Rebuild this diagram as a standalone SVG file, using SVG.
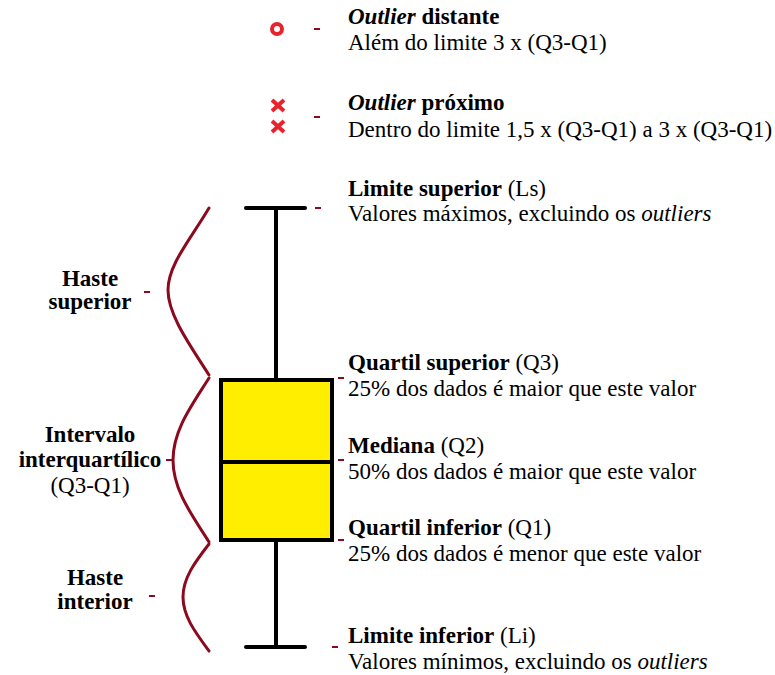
<svg xmlns="http://www.w3.org/2000/svg" width="775" height="675" viewBox="0 0 775 675">
<style>
text{font-family:"Liberation Serif","Times New Roman",serif;font-size:23px;fill:#000}
.b{font-weight:bold}
.c{text-anchor:middle}
.brace{fill:none;stroke:#8b0a1e;stroke-width:3;stroke-linecap:round}
.dash{stroke:#8b0a1e;stroke-width:2}
.blk{stroke:#000;stroke-width:4;stroke-linecap:round}
.out{stroke:#e8232b;stroke-width:4;fill:none}
</style>
<rect width="775" height="675" fill="#fff"/>
<g id="connectors">
<line class="dash" x1="314" y1="29" x2="320" y2="29"/>
<line class="dash" x1="314" y1="117" x2="320" y2="117"/>
<line class="dash" x1="315" y1="208" x2="321" y2="208"/>
<line class="dash" x1="338" y1="378" x2="344" y2="378"/>
<line class="dash" x1="338" y1="460" x2="344" y2="460"/>
<line class="dash" x1="338" y1="540" x2="344" y2="540"/>
<line class="dash" x1="332" y1="647" x2="338" y2="647"/>
<line class="dash" x1="144" y1="292" x2="150" y2="292"/>
<line class="dash" x1="166" y1="460" x2="172" y2="460"/>
<line class="dash" x1="149" y1="596" x2="155" y2="596"/>
</g>
<g id="outlier-distante">
<circle class="out" cx="277" cy="29" r="5"/>
<text x="348" y="24"><tspan class="b" font-style="italic">Outlier</tspan><tspan class="b"> distante</tspan></text>
<text x="348" y="50">Além do limite 3 x (Q3-Q1)</text>
</g>
<g id="outlier-proximo">
<path class="out" d="M272 100L284 111M284 100L272 111M272 121L284 132M284 121L272 132"/>
<text x="348" y="110"><tspan class="b" font-style="italic">Outlier</tspan><tspan class="b"> próximo</tspan></text>
<text x="348" y="137">Dentro do limite 1,5 x (Q3-Q1) a 3 x (Q3-Q1)</text>
</g>
<g id="boxplot">
<line class="blk" x1="276" y1="208" x2="276" y2="380"/>
<line class="blk" x1="276" y1="540" x2="276" y2="647"/>
<line class="blk" x1="246" y1="208" x2="305" y2="208"/>
<line class="blk" x1="246" y1="647" x2="305" y2="647"/>
<rect x="221" y="380" width="111" height="160" fill="#ffee00" stroke="#000" stroke-width="4"/>
<line x1="221" y1="462" x2="332" y2="462" stroke="#000" stroke-width="4"/>
</g>
<g id="limite-superior">
<text x="348" y="196"><tspan class="b">Limite superior</tspan> (Ls)</text>
<text x="348" y="221">Valores máximos, excluindo os <tspan font-style="italic">outliers</tspan></text>
</g>
<g id="quartil-superior">
<text x="348" y="370"><tspan class="b">Quartil superior</tspan> (Q3)</text>
<text x="348" y="396">25% dos dados é maior que este valor</text>
</g>
<g id="mediana">
<text x="348" y="453"><tspan class="b">Mediana</tspan> (Q2)</text>
<text x="348" y="479">50% dos dados é maior que este valor</text>
</g>
<g id="quartil-inferior">
<text x="348" y="535"><tspan class="b">Quartil inferior</tspan> (Q1)</text>
<text x="348" y="561">25% dos dados é menor que este valor</text>
</g>
<g id="limite-inferior">
<text x="348" y="643"><tspan class="b">Limite inferior</tspan> (Li)</text>
<text x="348" y="669">Valores mínimos, excluindo os <tspan font-style="italic">outliers</tspan></text>
</g>
<g id="haste-superior">
<path class="brace" d="M209 208C190 240 168 265 168 290C168 315 190 345 209 375"/>
<text class="b c" x="90" y="286">Haste</text>
<text class="b c" x="90" y="309">superior</text>
</g>
<g id="intervalo">
<path class="brace" d="M209 378C192 405 173 430 173 460C173 490 192 515 209 542"/>
<text class="b c" x="90" y="442">Intervalo</text>
<text class="b c" x="90" y="467">interquartílico</text>
<text class="c" x="90" y="493">(Q3-Q1)</text>
</g>
<g id="haste-interior">
<path class="brace" d="M209 544C195 562 183 578 183 597C183 616 195 632 209 651"/>
<text class="b c" x="95" y="585">Haste</text>
<text class="b c" x="95" y="609">interior</text>
</g>
</svg>
